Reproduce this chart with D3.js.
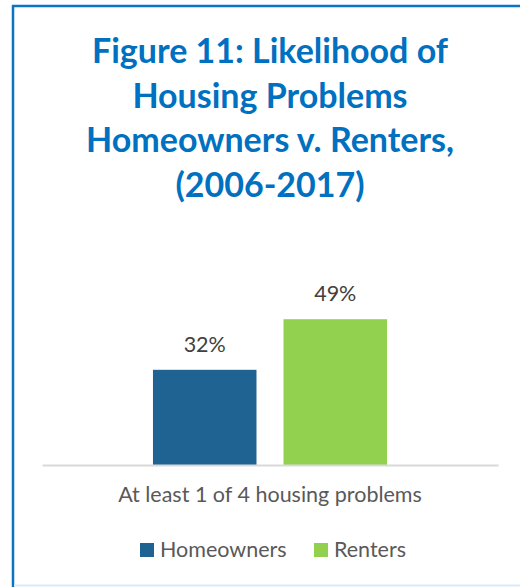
<!DOCTYPE html>
<html>
<head>
<meta charset="utf-8">
<script src="https://cdn.jsdelivr.net/npm/d3@7"></script>
<style>
  html, body { margin: 0; padding: 0; background: #fff; }
  svg { display: block; }
</style>
</head>
<body>
<svg id="chart" width="520" height="587"></svg>
<script>
// Chart data
const titleLines = ["Figure 11: Likelihood of", "Housing Problems", "Homeowners v. Renters,", "(2006-2017)"];
const category = "At least 1 of 4 housing problems";
const seriesNames = ["Homeowners", "Renters"];
const seriesValues = [32, 49];
const seriesColors = ["#1f6393", "#92d050"];

const svg = d3.select("#chart");
const W = 520, H = 587;
const font = "Lato, 'Open Sans', sans-serif";

// Frame: blue top and left rules, pale rule along the bottom
svg.append("line").attr("x1", 12).attr("x2", W).attr("y1", 6).attr("y2", 6)
  .attr("stroke", "#0a75c6").attr("stroke-width", 2.5);
svg.append("line").attr("x1", 13).attr("x2", 13).attr("y1", 5).attr("y2", H)
  .attr("stroke", "#0a75c6").attr("stroke-width", 2.5);
svg.append("line").attr("x1", 14).attr("x2", W).attr("y1", 585.5).attr("y2", 585.5)
  .attr("stroke", "#dbeaf7").attr("stroke-width", 2);

// Title
svg.append("g").selectAll("text").data(titleLines).join("text")
  .attr("x", 270)
  .attr("y", (d, i) => 63 + i * 44.7)
  .attr("text-anchor", "middle")
  .attr("font-family", font)
  .attr("font-weight", "bold")
  .attr("font-size", 34)
  .attr("fill", "#0070c0")
  .text(d => d);

// Scales
const baseY = 465;
const x0 = d3.scaleBand().domain([category]).range([42, 498]);
const x1 = d3.scaleBand().domain(seriesNames).range([0, x0.bandwidth()])
  .paddingInner(0.207).paddingOuter(0.85);
const y = d3.scaleLinear().domain([0, 60]).range([baseY, baseY - 178.5]);

const rows = seriesNames.map((n, i) => ({ name: n, value: seriesValues[i], color: seriesColors[i] }));

const g = svg.append("g").attr("transform", `translate(${x0(category)},0)`);

g.selectAll("rect").data(rows).join("rect")
  .attr("x", d => x1(d.name))
  .attr("width", x1.bandwidth())
  .attr("y", d => y(d.value))
  .attr("height", d => y(0) - y(d.value))
  .attr("fill", d => d.color);

g.selectAll("text.val").data(rows).join("text")
  .attr("class", "val")
  .attr("x", d => x1(d.name) + x1.bandwidth() / 2)
  .attr("y", d => y(d.value) - 18)
  .attr("text-anchor", "middle")
  .attr("font-family", font)
  .attr("font-size", 21.5)
  .attr("fill", "#404040")
  .text(d => d.value + "%");

// Category axis
const axis = d3.axisBottom(x0).tickSize(0).tickPadding(22);
const ag = svg.append("g").attr("transform", `translate(0,${baseY})`).call(axis);
ag.select(".domain").attr("stroke", "#d9d9d9").attr("stroke-width", 2);
ag.selectAll("text")
  .attr("font-family", font)
  .attr("font-size", 21.5)
  .attr("fill", "#595959");

// Legend
const legendX = [140, 314];
const lg = svg.append("g").selectAll("g").data(rows).join("g")
  .attr("transform", (d, i) => `translate(${legendX[i]},543)`);
lg.append("rect").attr("width", 14).attr("height", 14).attr("fill", d => d.color);
lg.append("text").attr("x", 20).attr("y", 14)
  .attr("font-family", font)
  .attr("font-size", 21.5)
  .attr("fill", "#595959")
  .text(d => d.name);
</script>
</body>
</html>
